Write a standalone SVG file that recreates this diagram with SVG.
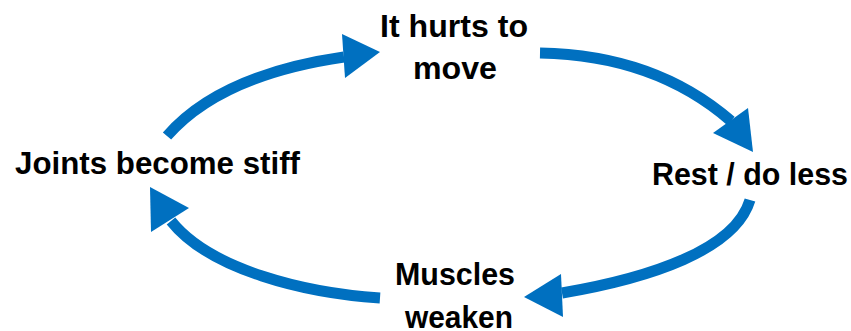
<svg xmlns="http://www.w3.org/2000/svg" width="851" height="331" viewBox="0 0 851 331">
<style>
.lbl{font-family:"Liberation Sans",Arial,sans-serif;font-weight:bold;font-size:31px;fill:#000;}
.shaft{fill:none;stroke:#0070C0;stroke-width:11;}
.head{fill:#0070C0;stroke:none;}
</style>
<rect width="851" height="331" fill="#fff"/>
<g id="connectors">
<g id="arrow-hurts-rest">
<path class="shaft" d="M540 53 Q655 55 731 121"/>
<polygon class="head" points="753,152 713,133 748,108"/>
</g>
<g id="arrow-rest-muscles">
<path class="shaft" d="M750 200 C735 250 650 278 562 293"/>
<polygon class="head" points="524,297 561,274 563,317"/>
</g>
<g id="arrow-muscles-joints">
<path class="shaft" d="M380 298 C305 293 210 270 171 221"/>
<polygon class="head" points="150,187 189,208 151,232"/>
</g>
<g id="arrow-joints-hurts">
<path class="shaft" d="M167 136 Q220 75 344 57"/>
<polygon class="head" points="380,52 342,34 345,78"/>
</g>
</g>
<g id="node-hurts">
<text class="lbl" x="380" y="37" textLength="148" lengthAdjust="spacingAndGlyphs">It hurts to</text>
<text class="lbl" x="413" y="79" textLength="84" lengthAdjust="spacingAndGlyphs">move</text>
</g>
<g id="node-rest">
<text class="lbl" x="652" y="185" textLength="196" lengthAdjust="spacingAndGlyphs">Rest / do less</text>
</g>
<g id="node-muscles">
<text class="lbl" x="395" y="285" textLength="120" lengthAdjust="spacingAndGlyphs">Muscles</text>
<text class="lbl" x="405" y="328" textLength="108" lengthAdjust="spacingAndGlyphs">weaken</text>
</g>
<g id="node-joints">
<text class="lbl" x="15" y="174" textLength="285" lengthAdjust="spacingAndGlyphs">Joints become stiff</text>
</g>
</svg>
